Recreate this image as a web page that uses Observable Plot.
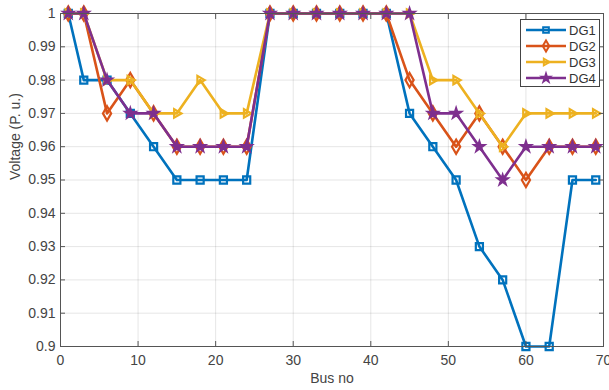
<!DOCTYPE html>
<html>
<head>
<meta charset="utf-8">
<script src="https://cdn.jsdelivr.net/npm/d3@7"></script>
<script src="https://cdn.jsdelivr.net/npm/@observablehq/plot@0.6"></script>
<style>
  html, body { margin: 0; padding: 0; background: #fff; }
  #wrap { position: relative; width: 609px; height: 390px; font-family: "Liberation Sans", Arial, sans-serif; }
  #legend { position: absolute; left: 520px; top: 19px; width: 78px; height: 66px; border: 1px solid #444; background: #fff; }
</style>
</head>
<body>
<div id="wrap"><div id="legend"></div></div>
<script>
const bus = [1, 3, 6, 9, 12, 15, 18, 21, 24, 27, 30, 33, 36, 39, 42, 45, 48, 51, 54, 57, 60, 63, 66, 69];
const dg1 = [1, 0.98, 0.98, 0.97, 0.96, 0.95, 0.95, 0.95, 0.95, 1, 1, 1, 1, 1, 1, 0.97, 0.96, 0.95, 0.93, 0.92, 0.90, 0.90, 0.95, 0.95];
const dg2 = [1, 1, 0.97, 0.98, 0.97, 0.96, 0.96, 0.96, 0.96, 1, 1, 1, 1, 1, 1, 0.98, 0.97, 0.96, 0.97, 0.96, 0.95, 0.96, 0.96, 0.96];
const dg3 = [1, 1, 0.98, 0.98, 0.97, 0.97, 0.98, 0.97, 0.97, 1, 1, 1, 1, 1, 1, 1, 0.98, 0.98, 0.97, 0.96, 0.97, 0.97, 0.97, 0.97];
const dg4 = [1, 1, 0.98, 0.97, 0.97, 0.96, 0.96, 0.96, 0.96, 1, 1, 1, 1, 1, 1, 1, 0.97, 0.97, 0.96, 0.95, 0.96, 0.96, 0.96, 0.96];
const seriesNames = ["DG1", "DG2", "DG3", "DG4"];
const seriesColors = ["#0072BD", "#D95319", "#EDB120", "#7E2F8E"];
const xTicks = [0, 10, 20, 30, 40, 50, 60, 70];
const yTicks = [0.9, 0.91, 0.92, 0.93, 0.94, 0.95, 0.96, 0.97, 0.98, 0.99, 1];
const xLabel = "Bus no";
const yLabel = "Voltage (P. u.)";

const triangleRight = {
  draw(context, size) {
    const s = Math.sqrt(size) * 0.55;
    context.moveTo(s * 1.1, 0);
    context.lineTo(-s * 0.65, -s);
    context.lineTo(-s * 0.65, s);
    context.closePath();
  }
};
const symbols = ["square", "diamond", triangleRight, "star"];
const radii = [4, 4.3, 4.3, 3];
const legendRadii = [3.2, 3.4, 3.4, 2.5];
const valuesList = [dg1, dg2, dg3, dg4];

const series = seriesNames.map((name, k) => ({
  name, color: seriesColors[k], symbol: symbols[k], r: radii[k], lr: legendRadii[k],
  data: bus.map((b, i) => ({bus: b, v: valuesList[k][i], name}))
}));

const seriesMarks = series.flatMap(s => [
  Plot.line(s.data, {x: "bus", y: "v", stroke: s.color, strokeWidth: 2.6}),
  Plot.dot(s.data, {x: "bus", y: "v", stroke: s.color, symbol: s.symbol, r: s.r, strokeWidth: 2.2,
    fill: s.name === "DG4" ? s.color : "none"})
]);

const fmt = d => String(+d.toFixed(2));

const chart = Plot.plot({
  width: 609,
  height: 390,
  marginLeft: 60,
  marginRight: 6,
  marginTop: 13,
  marginBottom: 44,
  style: {fontFamily: "'Liberation Sans', Arial, sans-serif", fontSize: "14px", color: "#444", background: "#fff"},
  x: {domain: [0, 70]},
  y: {domain: [0.9, 1]},
  marks: [
    Plot.gridX(xTicks, {stroke: "#000", strokeOpacity: 0.1}),
    Plot.gridY(yTicks, {stroke: "#000", strokeOpacity: 0.1}),
    ...seriesMarks,
    Plot.frame({stroke: "#555", strokeWidth: 1}),
    Plot.axisX(xTicks, {anchor: "bottom", tickSize: -5, tickPadding: 14, tickFormat: fmt, label: null, stroke: "#555", fill: "#444", fontSize: 14}),
    Plot.axisX(xTicks, {anchor: "top", tickSize: -5, tickFormat: () => "", label: null, stroke: "#555"}),
    Plot.axisY(yTicks, {anchor: "left", tickSize: -5, tickPadding: 10, tickFormat: fmt, label: null, stroke: "#555", fill: "#444", fontSize: 14}),
    Plot.axisY(yTicks, {anchor: "right", tickSize: -5, tickFormat: () => "", label: null, stroke: "#555"}),
    Plot.text([xLabel], {frameAnchor: "bottom", dy: 36, text: d => d, fontSize: 14, fill: "#444"}),
    Plot.text([yLabel], {frameAnchor: "left", dx: -45, rotate: -90, text: d => d, fontSize: 14, fill: "#444"})
  ]
});
const wrap = document.getElementById("wrap");
wrap.insertBefore(chart, wrap.firstChild);

// legend
const lsvg = d3.select("#legend").append("svg").attr("width", 78).attr("height", 66)
  .style("display", "block");
series.forEach((s, i) => {
  const y = 10 + i * 16;
  const g = lsvg.append("g");
  g.append("line").attr("x1", 5).attr("x2", 45).attr("y1", y).attr("y2", y)
    .attr("stroke", s.color).attr("stroke-width", 2.6);
  const symType = typeof s.symbol === "string"
    ? {square: d3.symbolSquare, diamond: d3.symbolDiamond, star: d3.symbolStar}[s.symbol]
    : s.symbol;
  g.append("path").attr("d", d3.symbol(symType, Math.PI * s.lr * s.lr)())
    .attr("transform", `translate(25,${y})`).attr("fill", s.name === "DG4" ? s.color : "none")
    .attr("stroke", s.color).attr("stroke-width", 2);
  g.append("text").attr("x", 48).attr("y", y).attr("dy", "0.35em")
    .attr("font-size", 13).attr("fill", "#333")
    .attr("font-family", "'Liberation Sans', Arial, sans-serif").text(s.name);
});
</script>
</body>
</html>
